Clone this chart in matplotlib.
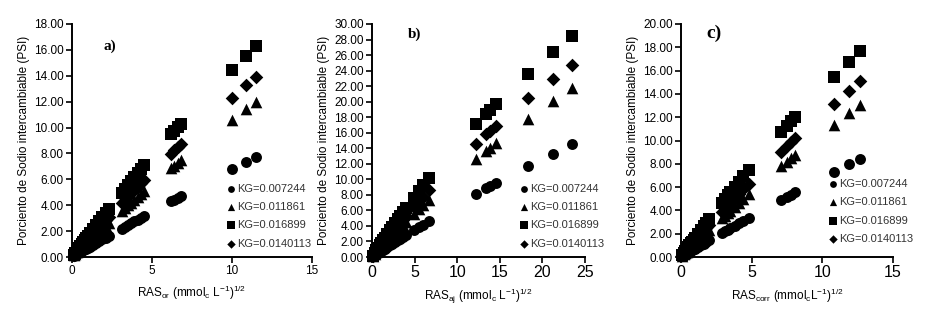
import matplotlib
matplotlib.use("Agg")
import matplotlib.pyplot as plt

plt.rcParams['font.family'] = ['Liberation Sans', 'DejaVu Sans']
plt.rcParams['mathtext.default'] = 'regular'

kg_labels = ['KG=0.007244', 'KG=0.011861', 'KG=0.016899', 'KG=0.0140113']
markers = ['o', '^', 's', 'D']

# panel a) RAS_or
x_a = [0.1, 0.2, 0.3, 0.4, 0.5, 0.6, 0.7, 0.8, 0.9, 1.0, 1.1, 1.3, 1.5, 1.7, 1.9, 2.1, 2.3,
       3.1, 3.3, 3.5, 3.7, 3.9, 4.1, 4.3, 4.5, 6.2, 6.4, 6.6, 6.8, 10.0, 10.9, 11.5]
a_kg1 = [0.07, 0.15, 0.22, 0.29, 0.36, 0.43, 0.51, 0.58, 0.65, 0.72, 0.79, 0.93, 1.08, 1.22, 1.36, 1.50, 1.64,
         2.20, 2.34, 2.47, 2.61, 2.75, 2.88, 3.02, 3.16, 4.30, 4.43, 4.56, 4.70, 6.76, 7.32, 7.69]
a_kg2 = [0.12, 0.24, 0.36, 0.47, 0.59, 0.71, 0.82, 0.94, 1.06, 1.17, 1.29, 1.52, 1.75, 1.98, 2.20, 2.43, 2.66,
         3.55, 3.77, 3.99, 4.20, 4.42, 4.64, 4.85, 5.07, 6.85, 7.06, 7.26, 7.46, 10.60, 11.45, 12.00]
a_kg3 = [0.17, 0.34, 0.50, 0.67, 0.84, 1.00, 1.17, 1.33, 1.50, 1.66, 1.83, 2.15, 2.47, 2.79, 3.11, 3.43, 3.74,
         4.98, 5.28, 5.59, 5.89, 6.18, 6.48, 6.78, 7.07, 9.48, 9.76, 10.03, 10.31, 14.46, 15.55, 16.27]
a_kg4 = [0.14, 0.28, 0.42, 0.56, 0.70, 0.83, 0.97, 1.11, 1.25, 1.38, 1.52, 1.79, 2.06, 2.33, 2.59, 2.86, 3.12,
         4.16, 4.42, 4.68, 4.93, 5.18, 5.43, 5.68, 5.93, 7.99, 8.23, 8.47, 8.70, 12.29, 13.25, 13.88]

# panel b) RAS_aj
x_b = [0.1, 0.3, 0.5, 0.7, 0.9, 1.1, 1.3, 1.5, 1.8, 2.1, 2.4, 2.7, 3.0, 3.3, 3.6, 4.0,
       4.9, 5.5, 6.0, 6.7, 12.2, 13.4, 13.8, 14.5, 18.3, 21.2, 23.5]
b_kg1 = [0.07, 0.22, 0.36, 0.50, 0.65, 0.79, 0.93, 1.07, 1.29, 1.50, 1.71, 1.92, 2.13, 2.34, 2.54, 2.82,
         3.43, 3.83, 4.17, 4.63, 8.12, 8.85, 9.09, 9.51, 11.71, 13.31, 14.55]
b_kg2 = [0.12, 0.35, 0.59, 0.82, 1.06, 1.29, 1.52, 1.75, 2.09, 2.43, 2.77, 3.10, 3.44, 3.77, 4.10, 4.53,
         5.49, 6.12, 6.64, 7.36, 12.64, 13.71, 14.07, 14.67, 17.83, 20.09, 21.80]
b_kg3 = [0.17, 0.50, 0.84, 1.17, 1.50, 1.83, 2.15, 2.47, 2.95, 3.43, 3.90, 4.36, 4.83, 5.28, 5.73, 6.33,
         7.65, 8.50, 9.21, 10.17, 17.09, 18.46, 18.91, 19.68, 23.62, 26.38, 28.42]
b_kg4 = [0.14, 0.42, 0.70, 0.97, 1.25, 1.52, 1.79, 2.06, 2.46, 2.86, 3.25, 3.65, 4.03, 4.42, 4.80, 5.31,
         6.42, 7.15, 7.76, 8.58, 14.60, 15.81, 16.20, 16.89, 20.41, 22.90, 24.77]

# panel c) RAS_corr
x_c = [0.1, 0.2, 0.3, 0.4, 0.5, 0.6, 0.7, 0.8, 0.9, 1.0, 1.2, 1.4, 1.6, 1.8, 2.0,
       2.9, 3.1, 3.3, 3.5, 3.8, 4.1, 4.4, 4.8, 7.1, 7.5, 7.8, 8.1, 10.8, 11.9, 12.7]
c_kg1 = [0.07, 0.14, 0.22, 0.29, 0.36, 0.43, 0.50, 0.58, 0.65, 0.72, 0.86, 1.00, 1.15, 1.29, 1.43,
         2.06, 2.20, 2.34, 2.47, 2.68, 2.88, 3.09, 3.36, 4.89, 5.15, 5.35, 5.54, 7.26, 7.94, 8.42]
c_kg2 = [0.12, 0.24, 0.35, 0.47, 0.59, 0.71, 0.82, 0.94, 1.06, 1.17, 1.40, 1.63, 1.86, 2.09, 2.32,
         3.33, 3.55, 3.77, 3.99, 4.31, 4.64, 4.96, 5.39, 7.77, 8.17, 8.47, 8.77, 11.36, 12.37, 13.09]
c_kg3 = [0.17, 0.34, 0.50, 0.67, 0.84, 1.00, 1.17, 1.33, 1.50, 1.66, 1.99, 2.31, 2.63, 2.95, 3.27,
         4.67, 4.98, 5.28, 5.59, 6.03, 6.48, 6.92, 7.50, 10.71, 11.25, 11.65, 12.04, 15.43, 16.74, 17.67]
c_kg4 = [0.14, 0.28, 0.42, 0.56, 0.70, 0.83, 0.97, 1.11, 1.25, 1.38, 1.65, 1.92, 2.19, 2.46, 2.73,
         3.90, 4.16, 4.42, 4.67, 5.06, 5.43, 5.81, 6.30, 9.05, 9.51, 9.85, 10.19, 13.14, 14.29, 15.11]

fig = plt.figure(figsize=(9.32, 3.18), dpi=100)

panels = [
    dict(rect=[72/932, 61/318, 240/932, 233/318], x=x_a, ys=[a_kg1, a_kg2, a_kg3, a_kg4],
         xmax=15, xstep=5, ymax=18, xfs=8.5, tag='a)', tagpos=(0.13, 0.89), tagfs=11,
         xlabel='RAS$_{or}$ (mmol$_c$ L$^{-1}$)$^{1/2}$', leg=(0.62, 0.175)),
    dict(rect=[372/932, 61/318, 213/932, 233/318], x=x_b, ys=[b_kg1, b_kg2, b_kg3, b_kg4],
         xmax=25, xstep=5, ymax=30, xfs=11.5, tag='b)', tagpos=(0.17, 0.94), tagfs=11,
         xlabel='RAS$_{aj}$ (mmol$_c$ L$^{-1}$)$^{1/2}$', leg=(0.665, 0.175)),
    dict(rect=[681/932, 61/318, 212/932, 233/318], x=x_c, ys=[c_kg1, c_kg2, c_kg3, c_kg4],
         xmax=15, xstep=5, ymax=20, xfs=11.5, tag='c)', tagpos=(0.12, 0.94), tagfs=14,
         xlabel='RAS$_{corr}$ (mmol$_c$L$^{-1}$)$^{1/2}$', leg=(0.67, 0.195)),
]

for p in panels:
    ax = fig.add_axes(p['rect'])
    sizes = [62, 70, 70, 48]
    for y, m, lab, s in zip(p['ys'], markers, kg_labels, sizes):
        ax.scatter(p['x'], y, marker=m, s=s, color='black', linewidths=0, label=lab,
                   clip_on=False, zorder=3)
    ax.set_xlim(0, p['xmax'])
    ax.set_ylim(0, p['ymax'])
    ax.set_xticks(range(0, p['xmax'] + 1, p['xstep']))
    ax.set_yticks(range(0, p['ymax'] + 1, 2))
    ax.set_yticklabels(['%.2f' % v for v in range(0, p['ymax'] + 1, 2)])
    for side in ['top', 'right']:
        ax.spines[side].set_visible(False)
    for side in ['left', 'bottom']:
        ax.spines[side].set_linewidth(1.4)
    ax.tick_params(axis='y', direction='out', length=4, width=1.2, labelsize=8.5, pad=2)
    ax.tick_params(axis='x', direction='out', length=4, width=1.2, labelsize=p['xfs'], pad=2)
    ax.set_ylabel('Porciento de Sodio intercambiable (PSI)', fontsize=8.5, labelpad=3)
    ax.set_xlabel(p['xlabel'], fontsize=8.5, labelpad=5)
    ax.text(p['tagpos'][0], p['tagpos'][1], p['tag'], transform=ax.transAxes,
            fontsize=p['tagfs'], fontweight='bold', family='Liberation Serif')
    leg = ax.legend(loc='center left', bbox_to_anchor=p['leg'], frameon=False, fontsize=8,
                    handlelength=0.8, handletextpad=0.15, labelspacing=0.75, borderpad=0,
                    markerscale=0.62)
    for t in leg.get_texts():
        t.set_color('#333333')

fig.savefig('out.png', dpi=100)
